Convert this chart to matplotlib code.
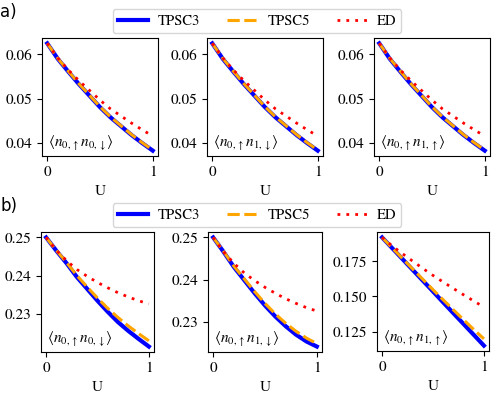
import matplotlib
matplotlib.use("Agg")
import matplotlib.pyplot as plt
import numpy as np

plt.rcParams['font.family'] = 'STIXGeneral'
plt.rcParams['mathtext.fontset'] = 'stix'

U = [0.0, 0.1, 0.2, 0.3, 0.4, 0.5, 0.6, 0.7, 0.8, 0.9, 1.0]

# row a) - the three correlators
a_tpsc3 = [0.0625, 0.0590, 0.0561, 0.0533, 0.0507, 0.0481, 0.0458, 0.0438, 0.0418, 0.0400, 0.0383]
a_tpsc5 = [0.0625, 0.0591, 0.0562, 0.0534, 0.0508, 0.0482, 0.0459, 0.0439, 0.0419, 0.0401, 0.0384]
a_ed = [0.0625, 0.0592, 0.0565, 0.0541, 0.0519, 0.0497, 0.0477, 0.0461, 0.0445, 0.0430, 0.0416]

# row b)
b1_tpsc3 = [0.2500, 0.2465, 0.2432, 0.2396, 0.2365, 0.2334, 0.2305, 0.2278, 0.2255, 0.2234, 0.2214]
b1_tpsc5 = [0.2500, 0.2466, 0.2434, 0.2400, 0.2370, 0.2341, 0.2314, 0.2290, 0.2268, 0.2248, 0.2229]
b1_ed = [0.2500, 0.2466, 0.2439, 0.2416, 0.2398, 0.2382, 0.2368, 0.2355, 0.2344, 0.2334, 0.2326]

b2_tpsc3 = [0.2500, 0.2466, 0.2430, 0.2399, 0.2368, 0.2339, 0.2313, 0.2290, 0.2270, 0.2254, 0.2242]
b2_tpsc5 = [0.2500, 0.2467, 0.2432, 0.2402, 0.2372, 0.2344, 0.2319, 0.2297, 0.2278, 0.2262, 0.2249]
b2_ed = [0.2500, 0.2466, 0.2439, 0.2416, 0.2398, 0.2382, 0.2368, 0.2355, 0.2344, 0.2334, 0.2326]

b3_tpsc3 = [0.1921, 0.1844, 0.1767, 0.1690, 0.1613, 0.1536, 0.1458, 0.1381, 0.1304, 0.1227, 0.1150]
b3_tpsc5 = [0.1921, 0.1846, 0.1771, 0.1696, 0.1622, 0.1548, 0.1476, 0.1405, 0.1334, 0.1265, 0.1198]
b3_ed = [0.1921, 0.1860, 0.1805, 0.1752, 0.1700, 0.1650, 0.1603, 0.1557, 0.1512, 0.1468, 0.1424]

labels = [r"$\langle n_{0,\uparrow} n_{0,\downarrow}\rangle$",
          r"$\langle n_{0,\uparrow} n_{1,\downarrow}\rangle$",
          r"$\langle n_{0,\uparrow} n_{1,\uparrow}\rangle$"]

rows = [
    [(a_tpsc3, a_tpsc5, a_ed), (a_tpsc3, a_tpsc5, a_ed), (a_tpsc3, a_tpsc5, a_ed)],
    [(b1_tpsc3, b1_tpsc5, b1_ed), (b2_tpsc3, b2_tpsc5, b2_ed), (b3_tpsc3, b3_tpsc5, b3_ed)],
]

W, H = 498, 398
fig = plt.figure(figsize=(W / 100, H / 100), dpi=100)

# axes boxes in pixels: (left, right, top, bottom)
boxes = [
    [(42, 158, 38, 156), (207, 323, 38, 156), (374, 490, 38, 156)],
    [(41, 154, 232, 352), (208, 322, 232, 352), (377, 489, 232, 351)],
]
yfmt = [["%.2f", "%.2f", "%.2f"], ["%.2f", "%.2f", "%.3f"]]

for r in range(2):
    for c in range(3):
        l, rr, t, b = boxes[r][c]
        ax = fig.add_axes([l / W, 1 - b / H, (rr - l) / W, (b - t) / H])
        t3, t5, ed = rows[r][c]
        ax.plot(U, t3, color='blue', lw=3, label='TPSC3')
        ax.plot(U, t5, color='orange', lw=2.2, ls=(0, (4, 1.5)), label='TPSC5')
        ax.plot(U, ed, color='red', lw=2, ls=(0, (1, 2.2)), label='ED')
        ax.set_xticks([0, 1])
        ax.set_xlabel("U", fontsize=11, labelpad=4)
        ax.tick_params(labelsize=11)
        ax.yaxis.set_major_formatter(matplotlib.ticker.FormatStrFormatter(yfmt[r][c]))
        ax.text(0.05, 0.025, labels[c], transform=ax.transAxes, fontsize=11,
                ha='left', va='bottom')
        if r == 0:
            ax.set_yticks([0.04, 0.05, 0.06])
        elif c < 2:
            ax.set_yticks([0.23, 0.24, 0.25])
        else:
            ax.set_yticks([0.125, 0.150, 0.175])
        if c == 0:
            handles, labs = ax.get_legend_handles_labels()
            ytop = 1 - (21 if r == 0 else 215) / H
            fig.legend(handles, labs, loc='center', bbox_to_anchor=(257 / W, ytop),
                       ncol=3, fontsize=10.5, handlelength=2.1, columnspacing=1.85,
                       borderpad=0.35, handletextpad=0.65)

fig.text(0.0, 1 - 3 / H, "a)", fontsize=12, family='DejaVu Sans', va='top', ha='left')
fig.text(0.0, 1 - 197 / H, "b)", fontsize=12, family='DejaVu Sans', va='top', ha='left')

fig.savefig("out.png", dpi=100)
